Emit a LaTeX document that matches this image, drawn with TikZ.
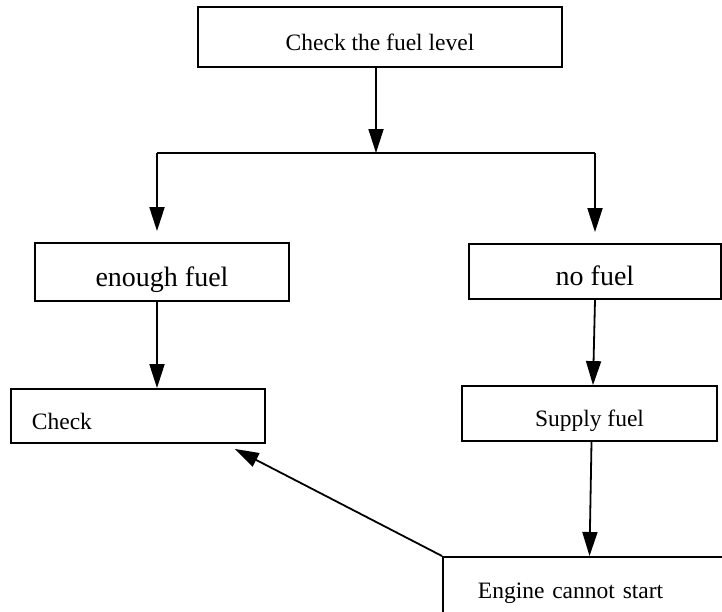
\documentclass[tikz,border=0pt]{standalone}
\usepackage{fontspec}
\setmainfont{Liberation Serif}
\usetikzlibrary{arrows.meta}

\begin{document}
\begin{tikzpicture}[x=1pt, y=1pt,
  box/.style={draw, line width=1.8pt, inner sep=0pt, text height=26pt, text depth=0pt, font=\fontsize{23.5}{28}\selectfont},
  bigbox/.style={box, text height=28pt, font=\fontsize{28}{32}\selectfont},
  arr/.style={-{Triangle[length=24pt,width=15pt]}, line width=1.8pt}]
\useasboundingbox (0,0) rectangle (722,-611);
\clip (0,0) rectangle (722,-611);

\node (level) at (380,-37) [box, minimum width=364pt, minimum height=60pt] {Check the fuel level};
\node (enough) at (162,-272) [bigbox, minimum width=254pt, minimum height=58pt] {enough fuel};
\node (nofuel) at (595,-271.5) [bigbox, minimum width=252pt, minimum height=55pt] {no fuel};
\node (check) at (10,-416) [box, anchor=west, text width=212pt, inner xsep=21pt, align=left, minimum height=54pt] {Check};
\node (supply) at (589.5,-413.5) [box, minimum width=255pt, minimum height=55pt] {Supply fuel};
\node (engine) at (442,-556) [box, anchor=north west, text width=230pt, inner xsep=35pt, align=left, minimum height=58pt] {Engine cannot start};

\coordinate (split) at (376,-153);
\coordinate (lbranch) at (157,-153);
\coordinate (rbranch) at (595,-153);

\draw [arr] (level.south -| split) -- (split);
\draw [line width=1.8pt] (lbranch) -- (rbranch);
\draw [arr] (lbranch) -- ([yshift=11pt]lbranch |- enough.north);
\draw [arr] (rbranch) -- ([yshift=11pt]rbranch |- nofuel.north);
\draw [arr] (enough.south -| lbranch) -- (check.north -| lbranch);
\draw [arr] (nofuel.south -| rbranch) -- ([xshift=-2pt]rbranch |- supply.north);
\draw [arr] ([xshift=2pt]supply.south) -- (supply.south |- engine.north);
\draw [arr] (engine.north west) -- ([xshift=-31pt,yshift=-5pt]check.south east);
\end{tikzpicture}
\end{document}
